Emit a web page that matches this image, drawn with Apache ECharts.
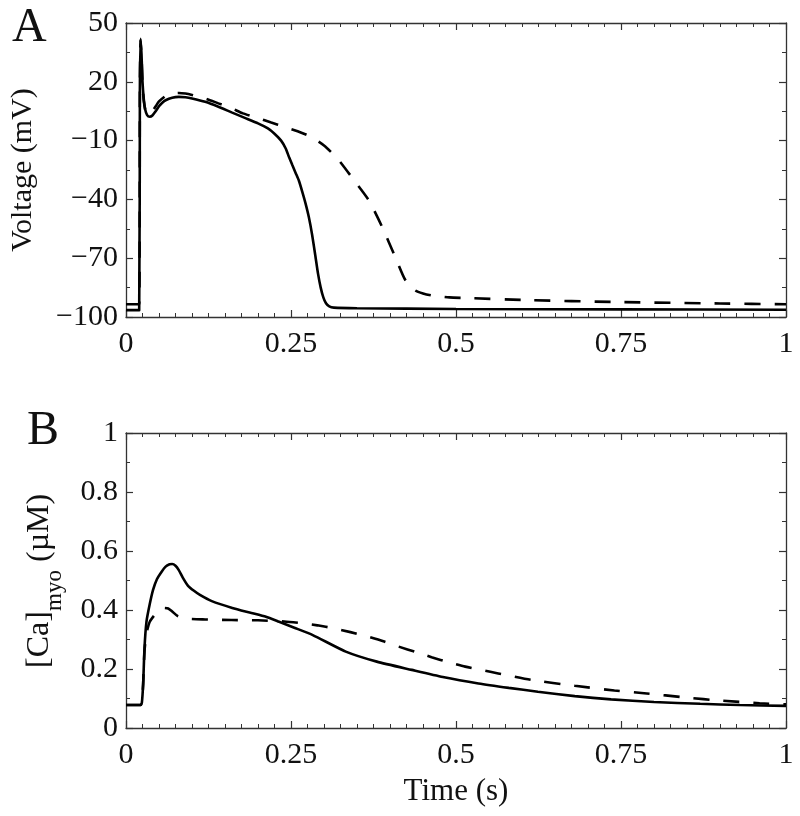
<!DOCTYPE html>
<html>
<head>
<meta charset="utf-8">
<script src="https://cdn.jsdelivr.net/npm/echarts@6/dist/echarts.min.js"></script>
<style>html,body{margin:0;padding:0;background:#fff}#c{width:800px;height:816px}</style>
</head>
<body>
<div id="c"></div>
<script>
// ---------- Data ----------
// Panel A: membrane voltage (mV) vs time (s)
var tVsolid = [0, 0.0200, 0.0210, 0.0220, 0.0235, 0.025, 0.027, 0.029, 0.032, 0.036, 0.040, 0.045, 0.050, 0.055, 0.060, 0.070, 0.080, 0.090, 0.100, 0.120, 0.140, 0.160, 0.180, 0.200, 0.215, 0.225, 0.235, 0.242, 0.247, 0.252, 0.257, 0.262, 0.267, 0.272, 0.277, 0.282, 0.287, 0.291, 0.295, 0.299, 0.303, 0.308, 0.315, 0.350, 0.500, 0.750, 1.000];
var vSolid  = [-96.5, -96.5, 15, 42, 34, 20, 11, 6, 3, 2.2, 2.8, 5, 7.5, 9.3, 10.6, 11.9, 12.3, 12.1, 11.5, 9.8, 7.3, 4.4, 1.6, -1.2, -3.8, -6.5, -10, -14, -18.4, -22.5, -26.5, -30.5, -36, -42, -49, -58, -69, -78, -85, -90, -93, -94.6, -95.2, -95.5, -95.9, -96.1, -96.3];
var tVdash  = [0, 0.0200, 0.0210, 0.0220, 0.0235, 0.025, 0.027, 0.030, 0.033, 0.036, 0.040, 0.045, 0.050, 0.060, 0.070, 0.080, 0.090, 0.100, 0.120, 0.140, 0.160, 0.177, 0.200, 0.220, 0.240, 0.260, 0.280, 0.300, 0.320, 0.345, 0.368, 0.388, 0.408, 0.423, 0.438, 0.450, 0.463, 0.490, 0.514, 0.600, 0.750, 0.900, 1.000];
var vDash   = [-93.5, -93.5, 15, 41, 33, 19, 10, 4.5, 3.5, 3.6, 5, 7.5, 10, 12.8, 14, 14.3, 14, 13.3, 11.5, 9, 6.5, 3.9, 1.5, -0.8, -3, -5.2, -8, -12.5, -19, -30, -40.5, -54, -69.4, -81, -86.4, -88, -89, -90, -90.3, -91.3, -92.4, -93.1, -93.5];

// Panel B: [Ca]myo (µM) vs time (s)
var tCsolid = [0, 0.022, 0.024, 0.026, 0.028, 0.031, 0.036, 0.041, 0.047, 0.054, 0.060, 0.066, 0.070, 0.075, 0.080, 0.086, 0.094, 0.103, 0.112, 0.130, 0.161, 0.190, 0.212, 0.232, 0.255, 0.283, 0.333, 0.380, 0.433, 0.480, 0.534, 0.580, 0.624, 0.680, 0.735, 0.800, 0.870, 0.930, 1.000];
var cSolid  = [0.078, 0.078, 0.085, 0.15, 0.27, 0.36, 0.42, 0.468, 0.505, 0.53, 0.547, 0.555, 0.556, 0.55, 0.535, 0.51, 0.482, 0.465, 0.451, 0.43, 0.407, 0.39, 0.377, 0.36, 0.34, 0.315, 0.259, 0.225, 0.197, 0.173, 0.151, 0.136, 0.123, 0.108, 0.097, 0.088, 0.082, 0.078, 0.075];
var tCdash  = [0, 0.022, 0.024, 0.026, 0.028, 0.031, 0.036, 0.044, 0.052, 0.058, 0.064, 0.070, 0.078, 0.090, 0.120, 0.160, 0.200, 0.240, 0.267, 0.290, 0.315, 0.340, 0.363, 0.390, 0.413, 0.440, 0.463, 0.490, 0.514, 0.540, 0.564, 0.614, 0.680, 0.740, 0.785, 0.850, 0.900, 0.960, 1.000];
var cDash   = [0.078, 0.078, 0.085, 0.15, 0.26, 0.32, 0.36, 0.385, 0.40, 0.407, 0.405, 0.395, 0.38, 0.371, 0.368, 0.366, 0.365, 0.361, 0.355, 0.348, 0.338, 0.325, 0.312, 0.294, 0.276, 0.257, 0.24, 0.222, 0.208, 0.196, 0.185, 0.163, 0.143, 0.127, 0.118, 0.103, 0.093, 0.084, 0.080];

// Tick values
var xMinorTicks = [];
var vMajorTicks = [-100, -70, -40, -10, 20, 50];
var vMinorTicks = [-85, -55, -25, 5, 35];
var cMinorTicks = [0.1, 0.3, 0.5, 0.7, 0.9];
for (var k = 1; k < 40; k++) { if (k % 10 !== 0) xMinorTicks.push(+(k * 0.025).toFixed(3)); }

function pairs(t, v) { return t.map(function (x, i) { return [x, v[i]]; }); }

// ---------- Styling ----------
var FONT = 'Liberation Serif';
var INK = '#111';
var AX = '#333';
var lineAxis = { show: true, onZero: false, lineStyle: { color: AX, width: 1.3 } };
var noLine = { show: false, onZero: false };

function xAxisDef(grid, pos, labels, name) {
  return {
    type: 'value', gridIndex: grid, position: pos, min: 0, max: 1, interval: 0.25,
    axisLine: lineAxis,
    axisTick: { show: true, inside: true, length: 7, lineStyle: { color: AX, width: 1.2 } },
    axisLabel: { show: labels, margin: 12, fontFamily: FONT, fontSize: 30, color: INK,
                 formatter: function (v) { return String(v); } },
    splitLine: { show: false },
    name: name || '', nameLocation: 'middle', nameGap: 48,
    nameTextStyle: { fontFamily: FONT, fontSize: 31, color: INK }
  };
}
function xMinorDef(grid, pos) {
  return {
    type: 'value', gridIndex: grid, position: pos, min: 0, max: 1,
    axisLine: noLine,
    axisTick: { show: true, inside: true, length: 4, customValues: xMinorTicks, lineStyle: { color: AX, width: 1 } },
    axisLabel: { show: false }, splitLine: { show: false }
  };
}
function yMinorDef(grid, pos, mn, mx, vals) {
  return {
    type: 'value', gridIndex: grid, position: pos, min: mn, max: mx,
    axisLine: noLine,
    axisTick: { show: true, inside: true, length: 4, customValues: vals, lineStyle: { color: AX, width: 1 } },
    axisLabel: { show: false }, splitLine: { show: false }
  };
}
function vText(txt, x, y, size) {
  return { type: 'text', x: x, y: y, rotation: Math.PI / 2, silent: true,
           style: { text: txt, fontFamily: FONT, fontSize: size, fill: INK, align: 'left', verticalAlign: 'middle' } };
}

var minus = function (v) { return String(v).replace('-', '\u2212'); };

var option = {
  animation: false,
  backgroundColor: '#fff',
  grid: [
    { left: 126, top: 23, right: 14, height: 294 },
    { left: 126, top: 433, right: 14, height: 295 }
  ],
  xAxis: [
    xAxisDef(0, 'bottom', true),
    xAxisDef(0, 'top', false),
    xAxisDef(1, 'bottom', true, 'Time (s)'),
    xAxisDef(1, 'top', false),
    xMinorDef(0, 'bottom'), xMinorDef(0, 'top'),
    xMinorDef(1, 'bottom'), xMinorDef(1, 'top')
  ],
  yAxis: [
    { // 0: panel A left, majors + labels
      type: 'value', gridIndex: 0, position: 'left', min: -100, max: 50,
      axisLine: lineAxis,
      axisTick: { show: true, inside: true, length: 7, customValues: vMajorTicks, lineStyle: { color: AX, width: 1.2 } },
      axisLabel: { show: true, margin: 8, customValues: vMajorTicks, formatter: minus, fontFamily: FONT, fontSize: 30, color: INK },
      splitLine: { show: false },
      name: 'Voltage (mV)', nameLocation: 'middle', nameGap: 88,
      nameTextStyle: { fontFamily: FONT, fontSize: 30, color: INK }
    },
    { // 1: panel A right
      type: 'value', gridIndex: 0, position: 'right', min: -100, max: 50,
      axisLine: lineAxis,
      axisTick: { show: true, inside: true, length: 7, customValues: vMajorTicks, lineStyle: { color: AX, width: 1.2 } },
      axisLabel: { show: false }, splitLine: { show: false }
    },
    yMinorDef(0, 'left', -100, 50, vMinorTicks),
    yMinorDef(0, 'right', -100, 50, vMinorTicks),
    { // 4: panel B left
      type: 'value', gridIndex: 1, position: 'left', min: 0, max: 1, interval: 0.2,
      axisLine: lineAxis,
      axisTick: { show: true, inside: true, length: 7, lineStyle: { color: AX, width: 1.2 } },
      axisLabel: { show: true, margin: 8, fontFamily: FONT, fontSize: 30, color: INK,
                   formatter: function (v) { return String(+v.toFixed(2)); } },
      splitLine: { show: false }
    },
    { // 5: panel B right
      type: 'value', gridIndex: 1, position: 'right', min: 0, max: 1, interval: 0.2,
      axisLine: lineAxis,
      axisTick: { show: true, inside: true, length: 7, lineStyle: { color: AX, width: 1.2 } },
      axisLabel: { show: false }, splitLine: { show: false }
    },
    yMinorDef(1, 'left', 0, 1, cMinorTicks),
    yMinorDef(1, 'right', 0, 1, cMinorTicks)
  ],
  graphic: [
    { type: 'text', left: 12, top: 4, style: { text: 'A', fontFamily: FONT, fontSize: 48, fill: INK } },
    { type: 'text', left: 27, top: 407, style: { text: 'B', fontFamily: FONT, fontSize: 48, fill: INK } },
    vText('[Ca]', 40, 668, 32),
    vText('myo', 55, 611, 23),
    vText(' (\u00b5M)', 40, 570, 32)
  ],
  series: [
    { type: 'line', name: 'V solid', xAxisIndex: 0, yAxisIndex: 0, data: pairs(tVsolid, vSolid),
      showSymbol: false, smooth: 0.2, lineStyle: { color: '#000', width: 2.6 }, z: 3 },
    { type: 'line', name: 'V dashed', xAxisIndex: 0, yAxisIndex: 0, data: pairs(tVdash, vDash),
      showSymbol: false, smooth: 0.2, lineStyle: { color: '#000', width: 2.6, type: [16, 14] }, z: 2 },
    { type: 'line', name: 'Ca solid', xAxisIndex: 2, yAxisIndex: 4, data: pairs(tCsolid, cSolid),
      showSymbol: false, smooth: 0.2, lineStyle: { color: '#000', width: 2.6 }, z: 3 },
    { type: 'line', name: 'Ca dashed', xAxisIndex: 2, yAxisIndex: 4, data: pairs(tCdash, cDash),
      showSymbol: false, smooth: 0.2, lineStyle: { color: '#000', width: 2.6, type: [16, 14] }, z: 2 }
  ]
};

var chart = echarts.init(document.getElementById('c'), null, { renderer: 'canvas' });
chart.setOption(option);
</script>
</body>
</html>
